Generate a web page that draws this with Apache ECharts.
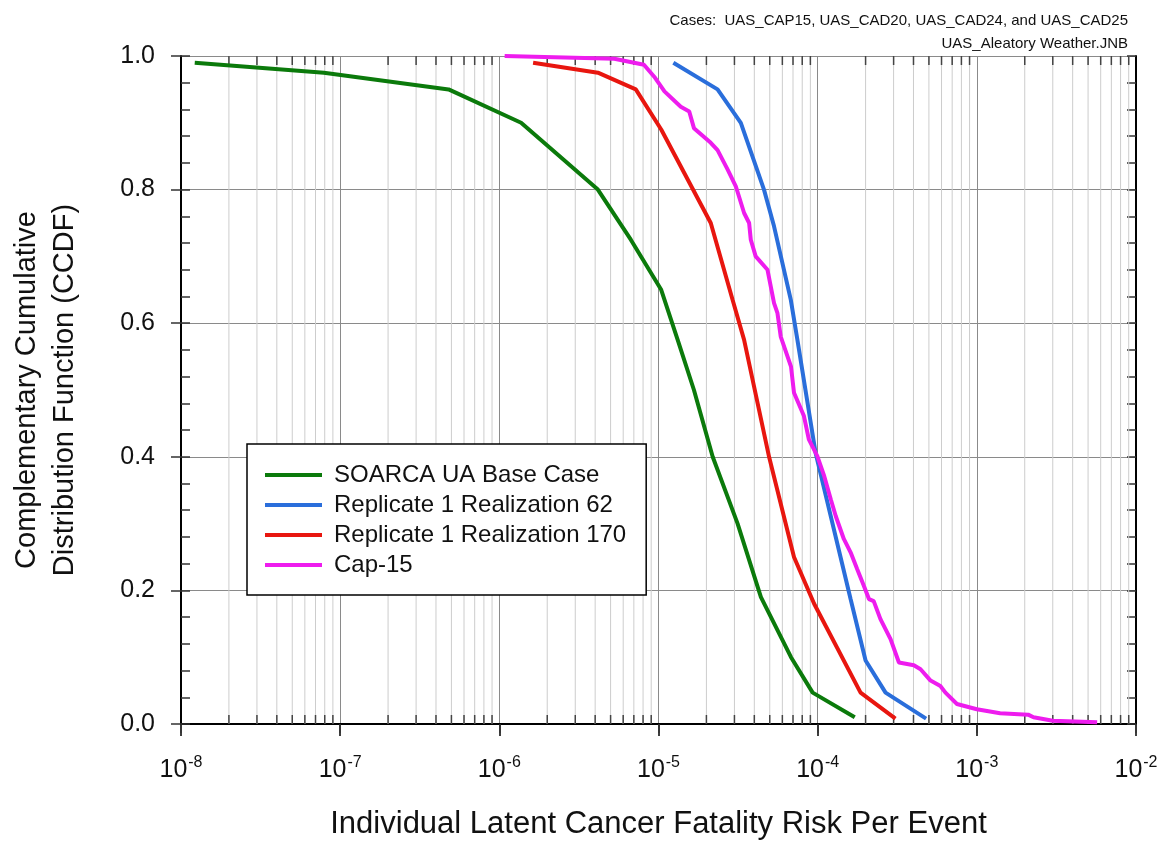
<!DOCTYPE html>
<html>
<head>
<meta charset="utf-8">
<script src="https://cdn.jsdelivr.net/npm/echarts@6/dist/echarts.min.js"></script>
<style>
html,body{margin:0;padding:0;background:#fff;}
#chart{width:1169px;height:845px;}
</style>
</head>
<body>
<div id="chart"></div>
<script>
// ---- data ----
const seriesNames = ['SOARCA UA Base Case', 'Replicate 1 Realization 62', 'Replicate 1 Realization 170', 'Cap-15'];

const riskBase = [1.22e-8, 7.9e-8, 4.8e-7, 1.37e-6, 4.16e-6, 6.7e-6, 1.04e-5, 1.32e-5, 1.67e-5, 2.19e-5, 3.14e-5, 4.4e-5, 6.8e-5, 9.3e-5, 1.71e-4];
const ccdfBase = [0.99, 0.975, 0.95, 0.90, 0.80, 0.725, 0.65, 0.575, 0.50, 0.40, 0.30, 0.19, 0.10, 0.047, 0.01];

const riskR62 = [1.24e-5, 2.35e-5, 3.29e-5, 4.6e-5, 5.32e-5, 6.78e-5, 7.46e-5, 9.7e-5, 1.61e-4, 2.0e-4, 2.67e-4, 4.8e-4];
const ccdfR62 = [0.99, 0.95, 0.90, 0.80, 0.745, 0.635, 0.575, 0.406, 0.187, 0.095, 0.047, 0.008];

const riskR170 = [1.63e-6, 4.16e-6, 7.2e-6, 1.04e-5, 2.13e-5, 2.92e-5, 3.45e-5, 4.95e-5, 7.1e-5, 9.5e-5, 1.86e-4, 3.08e-4];
const ccdfR170 = [0.99, 0.975, 0.95, 0.89, 0.75, 0.635, 0.575, 0.40, 0.25, 0.18, 0.047, 0.008];

const riskCap15 = [1.08e-6, 5.28e-6, 8.1e-6, 9.4e-6, 1.09e-5, 1.38e-5, 1.56e-5, 1.67e-5, 2.13e-5, 2.35e-5,
  2.72e-5, 3.06e-5, 3.45e-5, 3.71e-5, 3.8e-5, 4.08e-5, 4.84e-5, 5.32e-5, 5.59e-5, 5.86e-5,
  6.8e-5, 7.1e-5, 8.2e-5, 8.8e-5, 9.95e-5, 1.10e-4, 1.21e-4, 1.30e-4, 1.46e-4, 1.61e-4,
  1.77e-4, 1.95e-4, 2.10e-4, 2.25e-4, 2.48e-4, 2.87e-4, 3.24e-4, 4.02e-4, 4.43e-4, 5.12e-4,
  5.9e-4, 6.35e-4, 7.5e-4, 1.0e-3, 1.4e-3, 2.1e-3, 2.27e-3, 3.0e-3, 5.7e-3];
const ccdfCap15 = [1.0, 0.996, 0.987, 0.969, 0.947, 0.924, 0.917, 0.892, 0.870, 0.859,
  0.830, 0.805, 0.765, 0.750, 0.725, 0.700, 0.680, 0.630, 0.615, 0.580,
  0.535, 0.496, 0.461, 0.426, 0.401, 0.371, 0.336, 0.311, 0.277, 0.257,
  0.232, 0.207, 0.187, 0.184, 0.157, 0.127, 0.092, 0.088, 0.082, 0.065,
  0.057, 0.047, 0.030, 0.022, 0.016, 0.014, 0.010, 0.005, 0.0025];

// axis structure
const xMin = 1e-8, xMax = 1e-2;
const decadeExponents = [-8, -7, -6, -5, -4, -3];
const minorMultipliers = [2, 3, 4, 5, 6, 7, 8, 9];
const yTickLabels = ['0.0', '0.2', '0.4', '0.6', '0.8', '1.0'];
const titleLine1 = 'Cases:  UAS_CAP15, UAS_CAD20, UAS_CAD24, and UAS_CAD25';
const titleLine2 = 'UAS_Aleatory Weather.JNB';
const xName = 'Individual Latent Cancer Fatality Risk Per Event';
const yName = 'Complementary Cumulative\nDistribution Function (CCDF)';

const colors = ['#0b7a0b', '#2a6edb', '#e8160f', '#ee1cee'];

function pairs(xs, ys) { return xs.map((x, i) => [x, ys[i]]); }

const minorGrid = [];
decadeExponents.forEach(e => minorMultipliers.forEach(m => minorGrid.push([m * Math.pow(10, e), 0.5])));

const FONT = '"Liberation Sans", Arial, sans-serif';

const chart = echarts.init(document.getElementById('chart'), null, {renderer: 'canvas'});

const lineSeries = [
  [riskBase, ccdfBase], [riskR62, ccdfR62], [riskR170, ccdfR170], [riskCap15, ccdfCap15]
].map((d, i) => ({
  name: seriesNames[i],
  type: 'line',
  xAxisIndex: 0, yAxisIndex: 0,
  data: pairs(d[0], d[1]),
  symbol: 'none',
  smooth: false,
  color: colors[i],
  lineStyle: {width: 4, color: colors[i]},
  z: 5 + i,
  animation: false
}));

const option = {
  animation: false,
  backgroundColor: '#fff',
  title: [
    {text: titleLine1, right: 36, top: 8, textStyle: {fontFamily: FONT, fontSize: 15, fontWeight: 'normal', color: '#111'}},
    {text: titleLine2, right: 36, top: 31, textStyle: {fontFamily: FONT, fontSize: 15, fontWeight: 'normal', color: '#111'}}
  ],
  grid: {left: 179, right: 33, top: 56, bottom: 120, containLabel: false},
  legend: {
    data: seriesNames,
    orient: 'vertical',
    left: 247, top: 444,
    backgroundColor: '#fff',
    borderColor: '#000', borderWidth: 1.5, borderRadius: 0,
    padding: [19, 20, 18, 18],
    itemWidth: 57, itemHeight: 4, itemGap: 6,
    icon: 'rect',
    textStyle: {fontFamily: FONT, fontSize: 24, color: '#111', padding: [0, 0, 0, 7]},
    selectedMode: false
  },
  xAxis: [
    {
      type: 'log', logBase: 10, min: xMin, max: xMax, position: 'bottom',
      axisLine: {show: true, lineStyle: {color: '#000', width: 2}},
      axisTick: {show: true, inside: false, length: 12, lineStyle: {color: '#000', width: 1.5}},
      splitLine: {show: true, lineStyle: {color: '#8a8a8a', width: 1}},
      minorTick: {show: false}, minorSplitLine: {show: false},
      name: xName, nameLocation: 'middle', nameGap: 85,
      nameTextStyle: {fontFamily: FONT, fontSize: 31, color: '#111'},
      axisLabel: {
        margin: 31,
        formatter: v => '{b|10}{s|' + Math.round(Math.log10(v)) + '}',
        rich: {
          b: {fontFamily: FONT, fontSize: 25, color: '#111'},
          s: {fontFamily: FONT, fontSize: 16, color: '#111', padding: [0, 0, 14, 1]}
        }
      }
    },
    {
      type: 'log', logBase: 10, min: xMin, max: xMax, position: 'top',
      axisLine: {show: true, lineStyle: {color: '#000', width: 2}},
      axisTick: {show: true, inside: true, length: 9, lineStyle: {color: '#333', width: 1.5}},
      axisLabel: {show: false}, splitLine: {show: false}
    }
  ],
  yAxis: [
    {
      type: 'value', min: 0, max: 1, interval: 0.2, position: 'left',
      axisLine: {show: true, lineStyle: {color: '#000', width: 2}},
      axisTick: {show: true, inside: false, length: 10, lineStyle: {color: '#333', width: 1.5}},
      splitLine: {show: true, lineStyle: {color: '#8a8a8a', width: 1}},
      axisLabel: {margin: 26, fontFamily: FONT, fontSize: 25, color: '#111',
        formatter: (v) => yTickLabels[Math.round(v * 5)]},
      name: yName, nameLocation: 'middle', nameRotate: 90, nameGap: 97,
      nameTextStyle: {fontFamily: FONT, fontSize: 29, color: '#111', lineHeight: 38}
    },
    {
      type: 'value', min: 0, max: 1, interval: 0.04, position: 'left',
      axisLine: {show: false},
      axisTick: {show: true, inside: true, length: 9, lineStyle: {color: '#333', width: 1.5}},
      axisLabel: {show: false}, splitLine: {show: false}
    },
    {
      type: 'value', min: 0, max: 1, interval: 0.04, position: 'right',
      axisLine: {show: true, lineStyle: {color: '#000', width: 2}},
      axisTick: {show: true, inside: true, length: 9, lineStyle: {color: '#333', width: 1.5}},
      axisLabel: {show: false}, splitLine: {show: false}
    }
  ],
  series: [
    {
      name: 'minorGrid',
      type: 'custom',
      xAxisIndex: 0, yAxisIndex: 0,
      silent: true,
      z: 1,
      data: minorGrid,
      renderItem: function (params, api) {
        const x = api.coord([api.value(0), 0])[0];
        const top = params.coordSys.y;
        const bottom = top + params.coordSys.height;
        return {
          type: 'group',
          children: [
            {type: 'line', shape: {x1: x, y1: top, x2: x, y2: bottom}, style: {stroke: '#cdcdcd', lineWidth: 1}},
            {type: 'line', shape: {x1: x, y1: bottom, x2: x, y2: bottom - 9}, style: {stroke: '#444', lineWidth: 1.5}},
            {type: 'line', shape: {x1: x, y1: top, x2: x, y2: top + 9}, style: {stroke: '#444', lineWidth: 1.5}}
          ]
        };
      }
    }
  ].concat(lineSeries)
};

chart.setOption(option);
</script>
</body>
</html>
